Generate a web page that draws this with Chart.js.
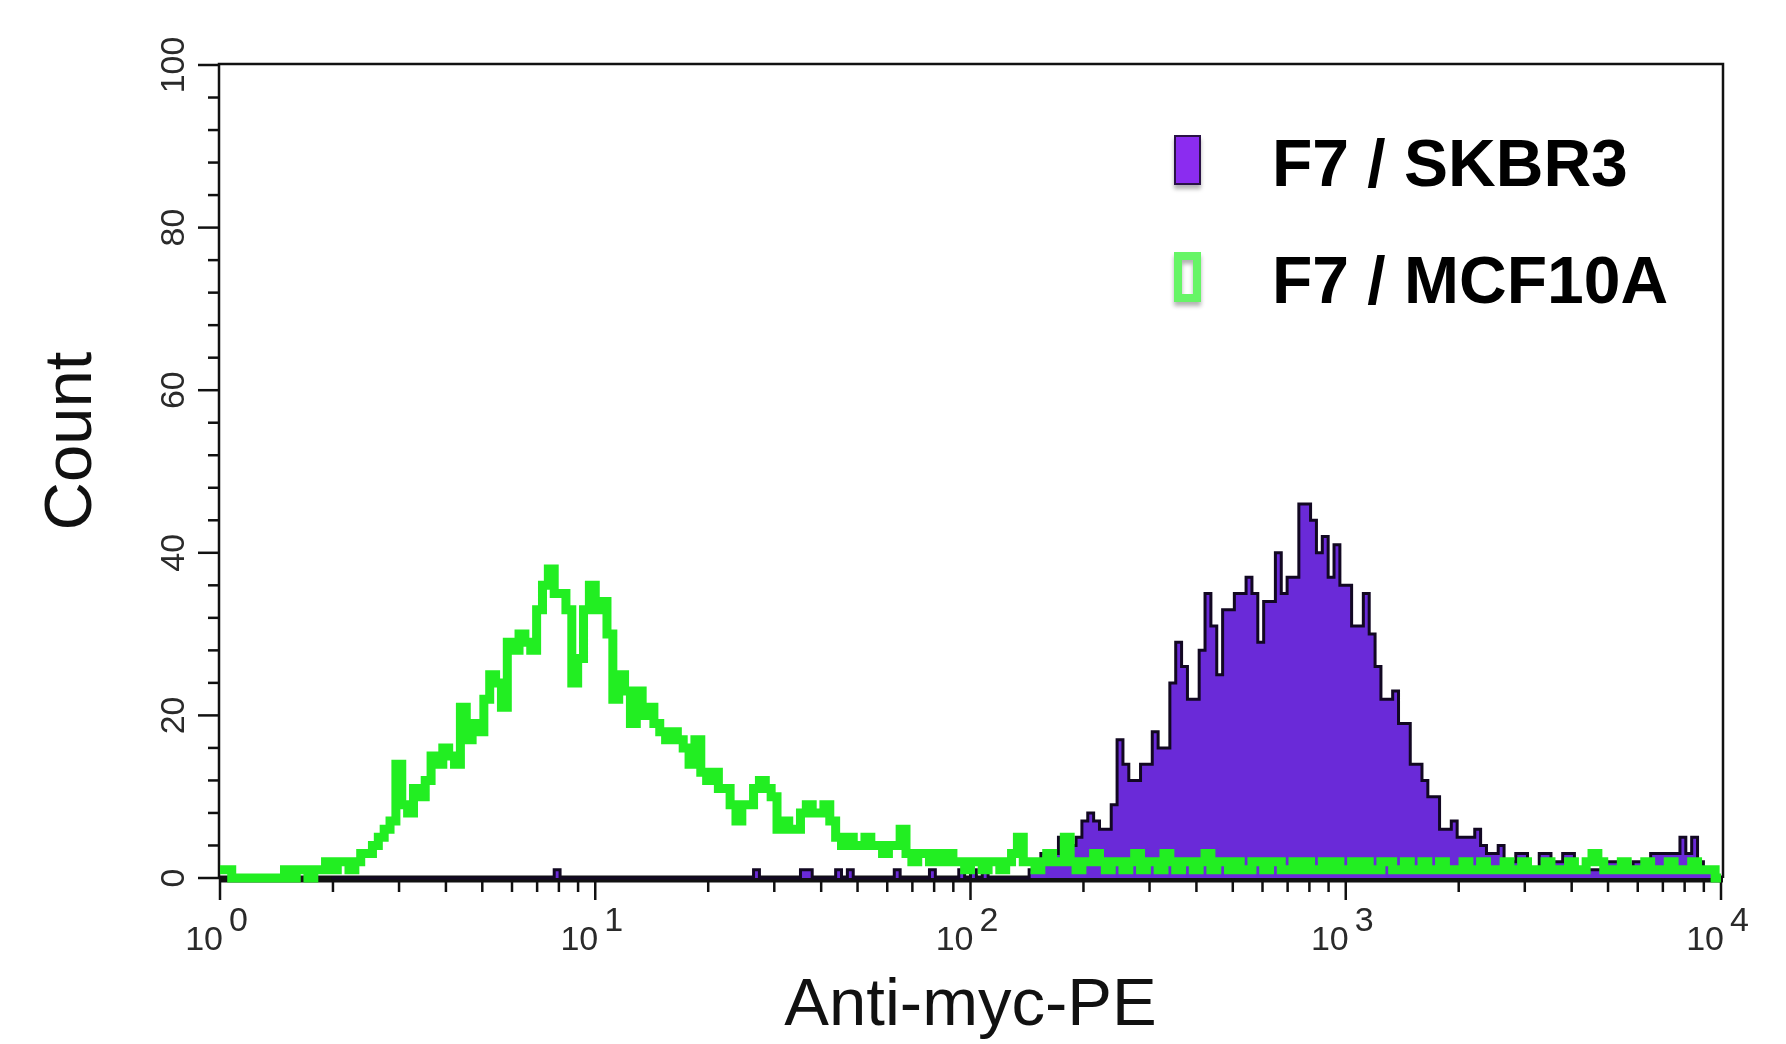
<!DOCTYPE html>
<html>
<head>
<meta charset="utf-8">
<title>Anti-myc-PE histogram</title>
<script src="https://cdn.jsdelivr.net/npm/chart.js@4.4.1/dist/chart.umd.min.js"></script>
<style>
  html, body { margin: 0; padding: 0; background: #fff; }
  canvas { display: block; }
</style>
</head>
<body>
<canvas id="histChart" width="1786" height="1044"></canvas>
<script>
// 256 log channels over 4 decades (10^0 .. 10^4)
var channels = 256;
var decades = 4;

var seriesLabels = ['F7 / SKBR3', 'F7 / MCF10A'];
var xTitle = 'Anti-myc-PE';
var yTitle = 'Count';
var yTickLabels = [0, 20, 40, 60, 80, 100];
var yMinorStep = 4;
var xTickExponents = [0, 1, 2, 3, 4];

var skbr3 = [
  null, null, null, null, null, null, null, null, null, null, null, null, null, null, null, null,
  null, null, null, 0, 0, 0, 0, 0, 0, 0, 0, 0, 0, 0, 0, 0,
  0, 0, 0, 0, 0, 0, 0, 0, 0, 0, 0, 0, 0, 0, 0, 0,
  0, 0, 0, 0, 0, 0, 0, 0, 0, 1, 0, 0, 0, 0, 0, 0,
  0, 0, 0, 0, 0, 0, 0, 0, 0, 0, 0, 0, 0, 0, 0, 0,
  0, 0, 0, 0, 0, 0, 0, 0, 0, 0, 0, 1, 0, 0, 0, 0,
  0, 0, 0, 1, 1, 0, 0, 0, 0, 1, 0, 1, 0, 0, 0, 0,
  0, 0, 0, 1, 0, 0, 0, 0, 0, 1, 0, 0, 0, 0, 1, 0,
  1, 0, 1, 0, 0, 0, 0, 0, 0, 0, 1, 2, 3, 2, 3, 5,
  5, 4, 5, 7, 8, 7, 6, 6, 9, 17, 14, 12, 12, 14, 14, 18,
  16, 16, 24, 29, 26, 22, 22, 28, 35, 31, 25, 33, 33, 35, 35, 37,
  35, 29, 34, 34, 40, 35, 37, 37, 46, 46, 44, 40, 42, 37, 41, 36,
  36, 31, 31, 35, 30, 26, 22, 22, 23, 19, 19, 14, 14, 12, 10, 10,
  6, 6, 7, 5, 5, 5, 6, 4, 3, 3, 4, 2, 2, 3, 3, 1,
  1, 3, 3, 2, 2, 3, 3, 1, 1, 1, 1, 1, 2, 2, 2, 1,
  1, 2, 2, 2, 3, 3, 3, 3, 3, 5, 3, 5, 2, 1, 1, 0
];

var mcf10a = [
  1, 1, 0, 0, 0, 0, 0, 0, 0, 0, 0, 1, 0, 1, 1, 0,
  1, 1, 2, 1, 2, 2, 1, 2, 3, 3, 4, 5, 6, 7, 14, 9,
  8, 11, 10, 12, 15, 14, 16, 15, 14, 21, 17, 19, 18, 22, 25, 24,
  21, 29, 28, 30, 29, 28, 33, 36, 38, 35, 35, 33, 24, 27, 33, 36,
  33, 34, 30, 22, 25, 23, 19, 23, 20, 21, 19, 18, 17, 18, 17, 16,
  14, 17, 13, 12, 13, 11, 11, 9, 7, 9, 9, 11, 12, 11, 10, 6,
  7, 6, 6, 8, 9, 8, 8, 9, 7, 5, 4, 5, 4, 4, 5, 4,
  4, 3, 4, 4, 6, 3, 2, 3, 3, 2, 3, 2, 3, 2, 2, 1,
  2, 2, 1, 2, 2, 1, 2, 3, 5, 2, 2, 1, 2, 3, 2, 2,
  5, 2, 1, 2, 2, 3, 2, 1, 2, 2, 1, 2, 3, 1, 2, 2,
  1, 3, 2, 1, 2, 2, 1, 2, 3, 1, 2, 2, 1, 2, 1, 1,
  2, 2, 1, 2, 2, 1, 1, 2, 1, 2, 1, 1, 2, 1, 2, 1,
  1, 2, 1, 2, 1, 1, 2, 2, 1, 1, 2, 1, 1, 2, 1, 1,
  2, 1, 1, 1, 2, 1, 1, 2, 1, 1, 1, 2, 1, 1, 2, 1,
  1, 1, 2, 1, 1, 1, 2, 1, 1, 2, 3, 2, 1, 1, 1, 2,
  1, 1, 1, 2, 1, 1, 1, 2, 1, 1, 1, 2, 1, 1, 1, 0
];

var fontFamily = '"Liberation Sans", Arial, sans-serif';

// left channel edges on the log axis
var edges = [];
for (var i = 0; i <= channels; i++) {
  edges.push(Math.pow(10, i * decades / channels));
}

function toPoints(counts) {
  var pts = counts.map(function (c, i) { return { x: edges[i], y: c }; });
  pts.push({ x: edges[channels], y: counts[channels - 1] });
  return pts;
}

//draws the frame, ticks, labels, titles and the legend
var cytoAxes = {
  id: 'cytoAxes',
  beforeDatasetsDraw: function (chart) {
    var ctx = chart.ctx;
    var area = chart.chartArea;
    var xs = chart.scales.x;
    var ys = chart.scales.y;
    ctx.save();
    ctx.strokeStyle = '#111';
    ctx.lineCap = 'butt';

    // frame
    ctx.lineWidth = 2.5;
    ctx.beginPath();
    ctx.moveTo(area.left - 1, area.bottom);
    ctx.lineTo(area.left - 1, area.top - 1);
    ctx.lineTo(area.right + 2, area.top - 1);
    ctx.lineTo(area.right + 2, area.bottom);
    ctx.stroke();
    ctx.lineWidth = 7;
    ctx.beginPath();
    ctx.moveTo(area.left - 1, area.bottom + 1);
    ctx.lineTo(area.right + 2, area.bottom + 1);
    ctx.stroke();

    // y ticks, major every 20, minor every 4
    ctx.lineWidth = 2.5;
    var yMax = yTickLabels[yTickLabels.length - 1];
    for (var v = 0; v <= yMax; v += yMinorStep) {
      var y = ys.getPixelForValue(v);
      var len = yTickLabels.indexOf(v) >= 0 ? 21 : 11;
      ctx.beginPath();
      ctx.moveTo(area.left - 1 - len, y);
      ctx.lineTo(area.left - 1, y);
      ctx.stroke();
    }

    // x ticks on the log axis
    xTickExponents.forEach(function (k) {
      var steps = k === xTickExponents[xTickExponents.length - 1] ? 1 : 9;
      for (var m = 1; m <= steps; m++) {
        var x = xs.getPixelForValue(m * Math.pow(10, k));
        ctx.beginPath();
        ctx.moveTo(x, area.bottom);
        ctx.lineTo(x, area.bottom + (m === 1 ? 22 : 14));
        ctx.stroke();
      }
    });
    ctx.restore();
  },
  afterDraw: function (chart) {
    var ctx = chart.ctx;
    var area = chart.chartArea;
    var xs = chart.scales.x;
    var ys = chart.scales.y;
    ctx.save();
    ctx.fillStyle = '#2a2a2a';

    // y tick labels, turned to read upward
    ctx.font = '34px ' + fontFamily;
    ctx.textAlign = 'center';
    ctx.textBaseline = 'alphabetic';
    yTickLabels.forEach(function (v) {
      ctx.save();
      ctx.translate(184, ys.getPixelForValue(v));
      ctx.rotate(-Math.PI / 2);
      ctx.fillText(String(v), 0, 0);
      ctx.restore();
    });

    // x tick labels as 10 with a raised exponent
    xTickExponents.forEach(function (k) {
      var x = xs.getPixelForValue(Math.pow(10, k));
      ctx.textAlign = 'right';
      ctx.fillText('10', x + 3, 950);
      ctx.textAlign = 'left';
      ctx.fillText(String(k), x + 9, 931);
    });

    // axis titles
    ctx.fillStyle = '#111';
    ctx.font = '67px ' + fontFamily;
    ctx.textAlign = 'center';
    ctx.fillText(xTitle, (area.left + area.right) / 2, 1025);
    ctx.save();
    ctx.translate(91, 441);
    ctx.rotate(-Math.PI / 2);
    ctx.fillText(yTitle, 0, 0);
    ctx.restore();

    // legend
    var sets = chart.data.datasets;
    ctx.font = 'bold 66px ' + fontFamily;
    ctx.textAlign = 'left';
    var rowTops = [135, 252];
    sets.forEach(function (ds, i) {
      var top = rowTops[i];
      ctx.save();
      ctx.shadowColor = 'rgba(0,0,0,0.3)';
      ctx.shadowOffsetY = 4;
      ctx.shadowBlur = 4;
      if (i === 0) {
        ctx.fillStyle = '#8b2cf0';
        ctx.fillRect(1174, top, 27, 50);
        ctx.shadowColor = 'transparent';
        ctx.strokeStyle = '#2a1246';
        ctx.lineWidth = 2;
        ctx.strokeRect(1175, top + 1, 25, 48);
      } else {
        ctx.strokeStyle = '#66f566';
        ctx.lineWidth = 8;
        ctx.strokeRect(1178, top + 4, 19, 42);
      }
      ctx.restore();
      ctx.fillStyle = '#000';
      ctx.fillText(ds.label, 1272, top + 51);
    });
    ctx.restore();
  }
};

new Chart(document.getElementById('histChart'), {
  type: 'line',
  data: {
    datasets: [
      {
        label: seriesLabels[0],
        data: toPoints(skbr3),
        stepped: true,
        fill: 'origin',
        backgroundColor: '#6a2ad8',
        borderColor: '#120822',
        borderWidth: 3,
        pointRadius: 0,
        spanGaps: false,
        order: 1,
        clip: false
      },
      {
        label: seriesLabels[1],
        data: toPoints(mcf10a),
        stepped: true,
        fill: false,
        borderColor: '#22ee22',
        borderWidth: 9,
        pointRadius: 0,
        order: 0,
        clip: false
      }
    ]
  },
  options: {
    responsive: false,
    animation: false,
    devicePixelRatio: 1,
    layout: { padding: { left: 220, top: 65, right: 65, bottom: 166 } },
    plugins: {
      legend: { display: false },
      tooltip: { enabled: false }
    },
    scales: {
      x: { type: 'logarithmic', min: 1, max: 10000, display: false },
      y: { type: 'linear', min: 0, max: 100, display: false }
    }
  },
  plugins: [cytoAxes]
});
</script>
</body>
</html>
